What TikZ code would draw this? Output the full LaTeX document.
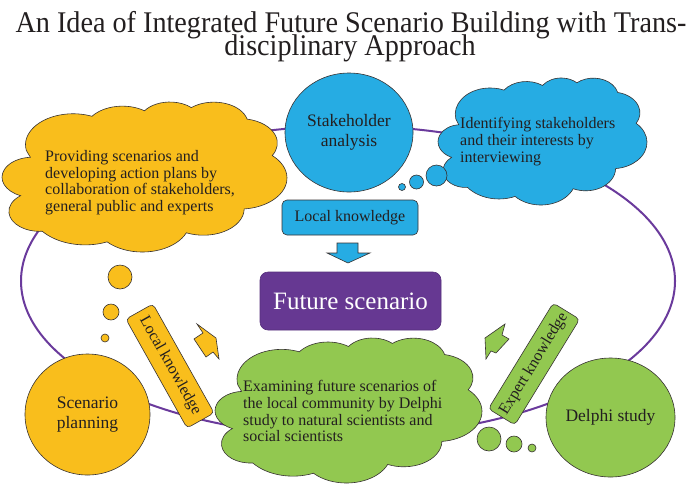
\documentclass[tikz,border=0pt]{standalone}
\usepackage{fontspec}
\setmainfont{Liberation Serif}
\newfontfamily\titlefont[FakeStretch=0.94]{Liberation Serif}
\usetikzlibrary{shapes.geometric}
\definecolor{cyel}{RGB}{249,190,28}
\definecolor{cblu}{RGB}{38,172,227}
\definecolor{cgrn}{RGB}{146,200,80}
\definecolor{cpur}{RGB}{102,56,146}
\definecolor{cline}{RGB}{106,58,156}
\definecolor{ctxt}{RGB}{35,31,32}
\definecolor{cedge}{RGB}{55,50,50}
\newcommand\pptcloud[5]{%
\begin{scope}[shift={(#1,#2)},xscale=#3/40.39,yscale=#4/44.466,shift={(-0.456,-0.022)}]
\filldraw[fill=#5,draw=cedge,line width=0.6pt] (3.9,14.37)
 arc[start angle=-190.49,delta angle=123.78,x radius=6.753,y radius=9.19]
 arc[start angle=-144.10,delta angle=89.95,x radius=5.333,y radius=7.267]
 arc[start angle=-145.81,delta angle=99.72,x radius=4.365,y radius=5.945]
 arc[start angle=-130.99,delta angle=117.24,x radius=4.857,y radius=6.595]
 arc[start angle=-78.71,delta angle=109.03,x radius=5.333,y radius=7.273]
 arc[start angle=-46.27,delta angle=130.27,x radius=6.775,y radius=9.22]
 arc[start angle=0.625,delta angle=114.03,x radius=5.785,y radius=7.867]
 arc[start angle=22.45,delta angle=115.17,x radius=6.752,y radius=9.215]
 arc[start angle=66.24,delta angle=75.71,x radius=7.72,y radius=10.543]
 arc[start angle=85.06,delta angle=146.74,x radius=4.36,y radius=5.918]
 arc[start angle=113.17,delta angle=152.52,x radius=4.345,y radius=5.945]
 -- cycle;
\end{scope}}
\begin{document}
\begin{tikzpicture}[x=1pt,y=-1pt,
  every node/.style={text=ctxt},
  edge/.style={draw=cedge,line width=0.6pt},
  bigcirc/.style={ellipse,edge,inner sep=0pt,align=center,font=\fontsize{17.5}{19.5}\selectfont},
  cloudtxt/.style={anchor=north west,inner sep=0pt,align=left,font=\fontsize{16}{16.8}\selectfont},
  kbox/.style={rectangle,rounded corners=4pt,edge,inner sep=0pt,minimum height=31pt,minimum width=125pt,font=\fontsize{16}{18}\selectfont},
  bubble/.style={circle,edge,inner sep=0pt},
  looppath/.style={draw=cline,line width=2pt},
  titletxt/.style={anchor=base,inner sep=0pt,font=\titlefont\fontsize{30}{30}\selectfont}
]
\useasboundingbox (0,0) rectangle (700,485);
\fill[white] (0,0) rectangle (700,485);

% title
\node[titletxt] (title1) at (351,32) {An Idea of Integrated Future Scenario Building with Trans-};
\node[titletxt] (title2) at (350,55.5) {disciplinary Approach};

% loop
\coordinate (loopc) at (348,281);
\draw[looppath] (loopc) ellipse[x radius=327,y radius=155];

% circles
\node[bigcirc,fill=cblu,minimum width=128pt,minimum height=119pt] (stake) at (349,132.5) {Stakeholder\\analysis};
\node[bigcirc,fill=cyel,minimum width=125pt,minimum height=121pt] (scen) at (87.5,414.5) {Scenario\\planning};
\node[bigcirc,fill=cgrn,minimum width=129pt,minimum height=119pt] (delphi) at (610.5,417.5) {Delphi study};

% clouds
\pptcloud{2}{102}{285}{150}{cyel}
\node[cloudtxt] (ytext) at (45,150) {Providing scenarios and\\developing action plans by\\collaboration of stakeholders,\\general public and experts};
\pptcloud{438}{78}{209}{127}{cblu}
\node[cloudtxt] (btext) at (460,117) {Identifying stakeholders\\and their interests by\\interviewing};
\pptcloud{215}{338}{267}{145}{cgrn}
\node[cloudtxt] (gtext) at (243,380) {Examining future scenarios of\\the local community by Delphi\\study to natural scientists and\\social scientists};

% thought bubbles
\node[bubble,fill=cyel,minimum size=24pt] (yb1) at (120,277) {};
\node[bubble,fill=cyel,minimum size=16pt] (yb2) at (111,312) {};
\node[bubble,fill=cyel,minimum size=8pt] (yb3) at (105,338) {};
\node[bubble,fill=cblu,minimum size=21pt] (bb1) at (436.5,175.5) {};
\node[bubble,fill=cblu,minimum size=14pt] (bb2) at (416.5,182) {};
\node[bubble,fill=cblu,minimum size=7pt] (bb3) at (402,187) {};
\node[bubble,fill=cgrn,minimum size=24pt] (gb1) at (489,439) {};
\node[bubble,fill=cgrn,minimum size=16pt] (gb2) at (514,444) {};
\node[bubble,fill=cgrn,minimum size=8pt] (gb3) at (532,448) {};

% knowledge boxes
\node[kbox,fill=cblu,minimum width=136pt,minimum height=35pt,rounded corners=5pt] (lkb) at (350,217.5) {Local knowledge};
\node[kbox,fill=cyel,rotate=-60.7] (lky) at (170,366) {Local knowledge};
\node[kbox,fill=cgrn,rotate=58.5,minimum width=124pt] (ekg) at (534,364) {Expert knowledge};

% future scenario
\node[fill=cpur,draw=cpur!85!black,line width=0.6pt,rounded corners=8pt,minimum width=181pt,minimum height=58pt,inner sep=0pt,text=white,font=\fontsize{25}{27}\selectfont] (future) at (350.5,301) {Future scenario};

% block arrows
\filldraw[fill=cblu,edge] (337,243) -- (358,243) -- (358,253) -- (370,253) -- (348,263) -- (327,253) -- (337,253) -- cycle;
\filldraw[fill=cyel,edge] (197,324) -- (216,338) -- (219,359) -- (213,352) -- (206,357) -- (194,339) -- (203,333) -- cycle;
\filldraw[fill=cgrn,edge] (505,324) -- (502,335) -- (509,339) -- (496,353) -- (491,351) -- (486,359) -- (485,338) -- cycle;
\end{tikzpicture}
\end{document}
